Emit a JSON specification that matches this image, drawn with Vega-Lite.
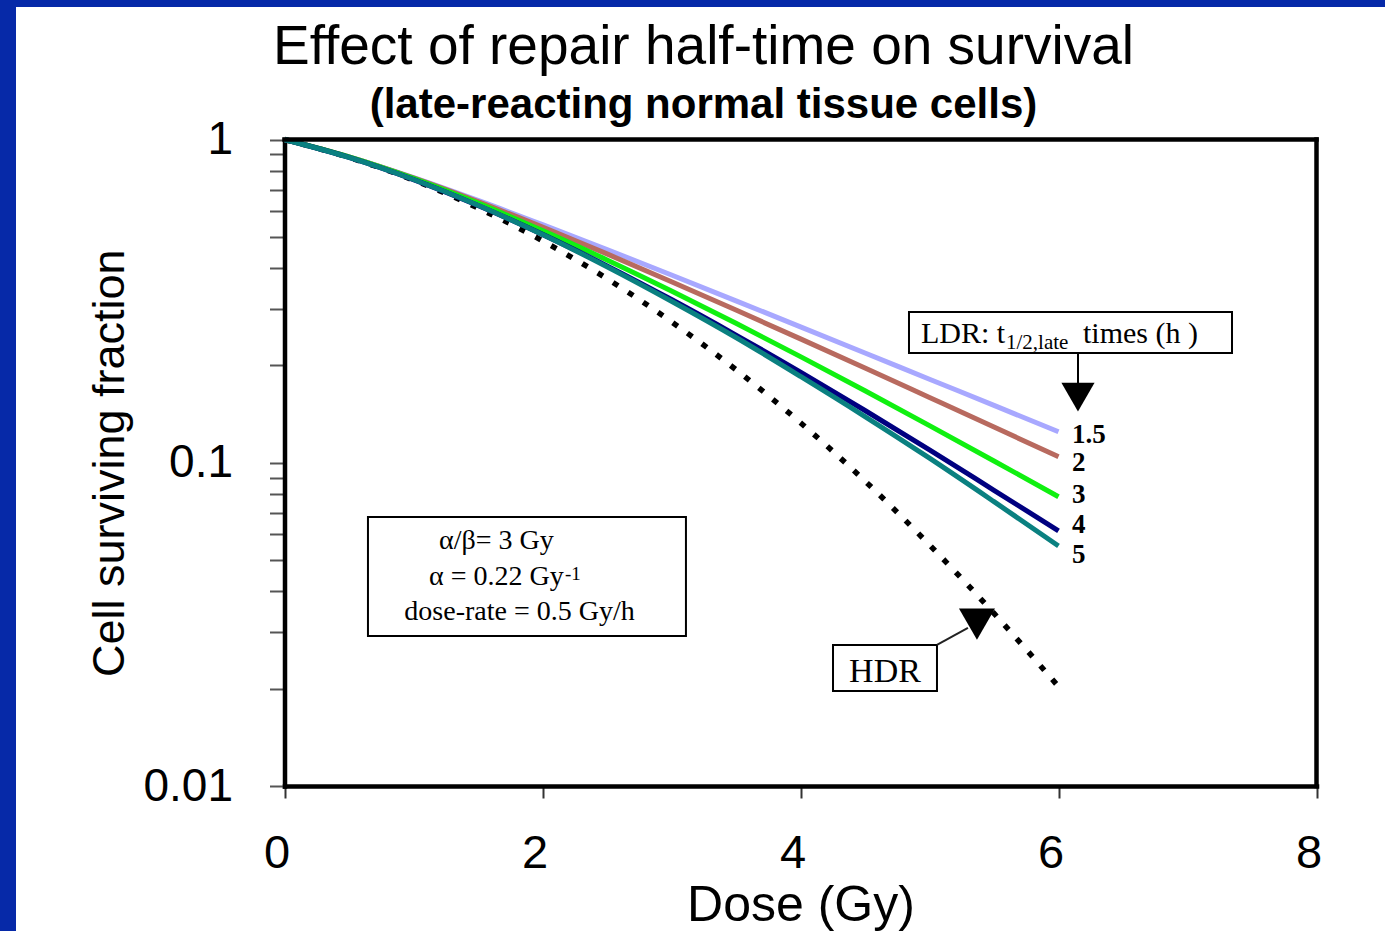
{
  "$schema": "https://vega.github.io/schema/vega-lite/v6.json",
  "width": 1369,
  "height": 924,
  "autosize": {"type": "none"},
  "padding": {"left": 16, "top": 7, "right": 0, "bottom": 0},
  "background": "#0629A8",
  "config": {"view": {"fill": "white", "stroke": null}},
  "title": {
    "text": "Effect of repair half-time on survival",
    "subtitle": "(late-reacting normal tissue cells)",
    "font": "Liberation Sans", "fontSize": 55, "fontWeight": "normal", "color": "black",
    "subtitleFont": "Liberation Sans", "subtitleFontSize": 42, "subtitleFontWeight": "bold", "subtitleColor": "black",
    "subtitlePadding": 9,
    "anchor": "middle", "frame": "group", "offset": -120, "dx": 3
  },
  "datasets": {
    "one": [{}],
    "curves": [
      {"t": "1.5", "dose": 0, "sf": 1}, {"t": "1.5", "dose": 0.5, "sf": 0.8832}, {"t": "1.5", "dose": 1, "sf": 0.7619}, {"t": "1.5", "dose": 1.5, "sf": 0.6477}, {"t": "1.5", "dose": 2, "sf": 0.5454}, {"t": "1.5", "dose": 2.5, "sf": 0.4566}, {"t": "1.5", "dose": 3, "sf": 0.3809}, {"t": "1.5", "dose": 3.5, "sf": 0.3169}, {"t": "1.5", "dose": 4, "sf": 0.2633}, {"t": "1.5", "dose": 4.5, "sf": 0.2186}, {"t": "1.5", "dose": 5, "sf": 0.1813}, {"t": "1.5", "dose": 5.5, "sf": 0.1505}, {"t": "1.5", "dose": 6, "sf": 0.1247},
      {"t": "2", "dose": 0, "sf": 1}, {"t": "2", "dose": 0.5, "sf": 0.8835}, {"t": "2", "dose": 1, "sf": 0.7604}, {"t": "2", "dose": 1.5, "sf": 0.6424}, {"t": "2", "dose": 2, "sf": 0.5357}, {"t": "2", "dose": 2.5, "sf": 0.4426}, {"t": "2", "dose": 3, "sf": 0.3632}, {"t": "2", "dose": 3.5, "sf": 0.2968}, {"t": "2", "dose": 4, "sf": 0.2417}, {"t": "2", "dose": 4.5, "sf": 0.1964}, {"t": "2", "dose": 5, "sf": 0.1592}, {"t": "2", "dose": 5.5, "sf": 0.129}, {"t": "2", "dose": 6, "sf": 0.1044},
      {"t": "3", "dose": 0, "sf": 1}, {"t": "3", "dose": 0.5, "sf": 0.8834}, {"t": "3", "dose": 1, "sf": 0.7579}, {"t": "3", "dose": 1.5, "sf": 0.6353}, {"t": "3", "dose": 2, "sf": 0.5229}, {"t": "3", "dose": 2.5, "sf": 0.4241}, {"t": "3", "dose": 3, "sf": 0.34}, {"t": "3", "dose": 3.5, "sf": 0.2701}, {"t": "3", "dose": 4, "sf": 0.213}, {"t": "3", "dose": 4.5, "sf": 0.167}, {"t": "3", "dose": 5, "sf": 0.1303}, {"t": "3", "dose": 5.5, "sf": 0.1013}, {"t": "3", "dose": 6, "sf": 0.0785},
      {"t": "4", "dose": 0, "sf": 1}, {"t": "4", "dose": 0.5, "sf": 0.8804}, {"t": "4", "dose": 1, "sf": 0.7516}, {"t": "4", "dose": 1.5, "sf": 0.6251}, {"t": "4", "dose": 2, "sf": 0.5087}, {"t": "4", "dose": 2.5, "sf": 0.4065}, {"t": "4", "dose": 3, "sf": 0.3198}, {"t": "4", "dose": 3.5, "sf": 0.2483}, {"t": "4", "dose": 4, "sf": 0.1907}, {"t": "4", "dose": 4.5, "sf": 0.1451}, {"t": "4", "dose": 5, "sf": 0.1096}, {"t": "4", "dose": 5.5, "sf": 0.0822}, {"t": "4", "dose": 6, "sf": 0.0616},
      {"t": "5", "dose": 0, "sf": 1}, {"t": "5", "dose": 0.5, "sf": 0.8800}, {"t": "5", "dose": 1, "sf": 0.7520}, {"t": "5", "dose": 1.5, "sf": 0.6260}, {"t": "5", "dose": 2, "sf": 0.5080}, {"t": "5", "dose": 2.5, "sf": 0.4040}, {"t": "5", "dose": 3, "sf": 0.3160}, {"t": "5", "dose": 3.5, "sf": 0.2440}, {"t": "5", "dose": 4, "sf": 0.1850}, {"t": "5", "dose": 4.5, "sf": 0.1390}, {"t": "5", "dose": 5, "sf": 0.1033}, {"t": "5", "dose": 5.5, "sf": 0.0758}, {"t": "5", "dose": 6, "sf": 0.0553}
    ],
    "hdr": [
      {"dose": 0, "sf": 1}, {"dose": 0.5, "sf": 0.88}, {"dose": 1, "sf": 0.749}, {"dose": 1.5, "sf": 0.614}, {"dose": 2, "sf": 0.486}, {"dose": 2.5, "sf": 0.371}, {"dose": 3, "sf": 0.273}, {"dose": 3.5, "sf": 0.194}, {"dose": 4, "sf": 0.133}, {"dose": 4.5, "sf": 0.0878}, {"dose": 5, "sf": 0.0557}, {"dose": 5.5, "sf": 0.0342}, {"dose": 6, "sf": 0.0203}
    ],
    "labels": [
      {"t": "1.5", "dose": 6, "sf": 0.1219},
      {"t": "2", "dose": 6, "sf": 0.0998},
      {"t": "3", "dose": 6, "sf": 0.0795},
      {"t": "4", "dose": 6, "sf": 0.0642},
      {"t": "5", "dose": 6, "sf": 0.0518}
    ]
  },
  "layer": [
    {
      "data": {"name": "hdr"},
      "mark": {"type": "line", "color": "black", "strokeWidth": 5.5, "strokeDash": [6, 12], "strokeCap": "butt", "interpolate": "monotone"},
      "encoding": {
        "x": {
          "field": "dose", "type": "quantitative",
          "scale": {"domain": [0, 8], "range": [268.5, 1300.5], "zero": false, "nice": false},
          "axis": {
            "orient": "bottom", "offset": -145, "values": [0, 2, 4, 6, 8], "format": "d", "grid": false,
            "domain": true, "domainColor": "black", "domainWidth": 4.5, "domainCap": "square",
            "ticks": true, "tickSize": 12, "tickColor": "#333333", "tickWidth": 2,
            "labelFont": "Liberation Sans", "labelFontSize": 47, "labelColor": "black",
            "labelBaseline": "alphabetic", "labelPadding": 69, "labelOffset": -8, "labelFlush": false, "labelOverlap": false,
            "title": "Dose (Gy)", "titleFont": "Liberation Sans", "titleFontSize": 50, "titleFontWeight": "normal",
            "titleColor": "black", "titleBaseline": "alphabetic", "titleY": 134
          }
        },
        "y": {
          "field": "sf", "type": "quantitative",
          "scale": {"type": "log", "domain": [0.01, 1], "range": [779, 132.5], "nice": false},
          "axis": {
            "orient": "left", "offset": -268.5,
            "values": [0.01, 0.02, 0.03, 0.04, 0.05, 0.06, 0.07, 0.08, 0.09, 0.1, 0.2, 0.3, 0.4, 0.5, 0.6, 0.7, 0.8, 0.9, 1],
            "labelExpr": "datum.value == 1 ? '1' : datum.value == 0.1 ? '0.1' : datum.value == 0.01 ? '0.01' : ''",
            "grid": false,
            "domain": true, "domainColor": "black", "domainWidth": 4.5, "domainCap": "square",
            "ticks": true, "tickSize": 15, "tickColor": "#555555", "tickWidth": 2,
            "labelFont": "Liberation Sans", "labelFontSize": 46, "labelColor": "black",
            "labelBaseline": "middle", "labelPadding": 37, "labelFlush": false, "labelOverlap": false,
            "title": "Cell surviving fraction", "titleFont": "Liberation Sans", "titleFontSize": 45, "titleFontWeight": "normal",
            "titleColor": "black", "titleAngle": -90, "titleBaseline": "alphabetic", "titleX": -161.5
          }
        }
      }
    },
    {
      "data": {"name": "curves"},
      "mark": {"type": "line", "strokeWidth": 5, "interpolate": "monotone"},
      "encoding": {
        "x": {"field": "dose", "type": "quantitative"},
        "y": {"field": "sf", "type": "quantitative"},
        "color": {
          "field": "t", "type": "nominal", "legend": null,
          "scale": {"domain": ["1.5", "2", "3", "4", "5"], "range": ["#A8A8FF", "#B86A5F", "#10F010", "#000080", "#0A8080"]}
        }
      }
    },
    {
      "data": {"name": "labels"},
      "mark": {"type": "text", "font": "Liberation Serif", "fontWeight": "bold", "fontSize": 27, "align": "left", "baseline": "middle", "dx": 13.5, "color": "black"},
      "encoding": {
        "x": {"field": "dose", "type": "quantitative"},
        "y": {"field": "sf", "type": "quantitative"},
        "text": {"field": "t"}
      }
    },
    {
      "data": {"name": "one"},
      "mark": {"type": "rule", "color": "black", "strokeWidth": 4.5, "strokeCap": "square"},
      "encoding": {
        "x": {"datum": 8, "type": "quantitative"},
        "y": {"datum": 0.01, "type": "quantitative"},
        "y2": {"datum": 1}
      }
    },
    {
      "data": {"name": "one"},
      "mark": {"type": "rule", "color": "black", "strokeWidth": 4.5, "strokeCap": "square"},
      "encoding": {
        "x": {"datum": 0, "type": "quantitative"},
        "x2": {"datum": 8},
        "y": {"datum": 1, "type": "quantitative"}
      }
    },
    {
      "data": {"name": "one"},
      "mark": {"type": "rect", "fill": "white", "stroke": "black", "strokeWidth": 2},
      "encoding": {
        "x": {"datum": 4.841, "type": "quantitative"}, "x2": {"datum": 7.345},
        "y": {"datum": 0.2926, "type": "quantitative"}, "y2": {"datum": 0.2185}
      }
    },
    {
      "data": {"name": "one"},
      "mark": {"type": "text", "text": "LDR: t", "font": "Liberation Serif", "fontSize": 30, "align": "left", "baseline": "alphabetic", "color": "black"},
      "encoding": {"x": {"datum": 4.934, "type": "quantitative"}, "y": {"datum": 0.2347, "type": "quantitative"}}
    },
    {
      "data": {"name": "one"},
      "mark": {"type": "text", "text": "1/2,late", "font": "Liberation Serif", "fontSize": 21, "align": "left", "baseline": "alphabetic", "color": "black"},
      "encoding": {"x": {"datum": 5.593, "type": "quantitative"}, "y": {"datum": 0.2248, "type": "quantitative"}}
    },
    {
      "data": {"name": "one"},
      "mark": {"type": "text", "text": "times (h )", "font": "Liberation Serif", "fontSize": 30, "align": "left", "baseline": "alphabetic", "color": "black"},
      "encoding": {"x": {"datum": 6.19, "type": "quantitative"}, "y": {"datum": 0.2347, "type": "quantitative"}}
    },
    {
      "data": {"name": "one"},
      "mark": {"type": "rule", "color": "black", "strokeWidth": 2},
      "encoding": {
        "x": {"datum": 6.151, "type": "quantitative"},
        "y": {"datum": 0.2185, "type": "quantitative"}, "y2": {"datum": 0.174}
      }
    },
    {
      "data": {"name": "one"},
      "mark": {"type": "point", "shape": "triangle-down", "size": 1100, "filled": true, "color": "black", "opacity": 1},
      "encoding": {"x": {"datum": 6.151, "type": "quantitative"}, "y": {"datum": 0.1597, "type": "quantitative"}}
    },
    {
      "data": {"name": "one"},
      "mark": {"type": "rect", "fill": "white", "stroke": "black", "strokeWidth": 2},
      "encoding": {
        "x": {"datum": 0.647, "type": "quantitative"}, "x2": {"datum": 3.112},
        "y": {"datum": 0.068, "type": "quantitative"}, "y2": {"datum": 0.02911}
      }
    },
    {
      "data": {"name": "one"},
      "mark": {"type": "text", "text": "α/β= 3 Gy", "font": "Liberation Serif", "fontSize": 28, "align": "center", "baseline": "alphabetic", "color": "black"},
      "encoding": {"x": {"datum": 1.643, "type": "quantitative"}, "y": {"datum": 0.0541, "type": "quantitative"}}
    },
    {
      "data": {"name": "one"},
      "mark": {"type": "text", "text": "α = 0.22 Gy", "font": "Liberation Serif", "fontSize": 28, "align": "center", "baseline": "alphabetic", "color": "black"},
      "encoding": {"x": {"datum": 1.643, "type": "quantitative"}, "y": {"datum": 0.04186, "type": "quantitative"}}
    },
    {
      "data": {"name": "one"},
      "mark": {"type": "text", "text": "-1", "font": "Liberation Serif", "fontSize": 19, "align": "left", "baseline": "alphabetic", "color": "black"},
      "encoding": {"x": {"datum": 2.174, "type": "quantitative"}, "y": {"datum": 0.04338, "type": "quantitative"}}
    },
    {
      "data": {"name": "one"},
      "mark": {"type": "text", "text": "dose-rate = 0.5 Gy/h", "font": "Liberation Serif", "fontSize": 28, "align": "center", "baseline": "alphabetic", "color": "black"},
      "encoding": {"x": {"datum": 1.822, "type": "quantitative"}, "y": {"datum": 0.03262, "type": "quantitative"}}
    },
    {
      "data": {"name": "one"},
      "mark": {"type": "rect", "fill": "white", "stroke": "black", "strokeWidth": 2},
      "encoding": {
        "x": {"datum": 4.252, "type": "quantitative"}, "x2": {"datum": 5.058},
        "y": {"datum": 0.02731, "type": "quantitative"}, "y2": {"datum": 0.01967}
      }
    },
    {
      "data": {"name": "one"},
      "mark": {"type": "text", "text": "HDR", "font": "Liberation Serif", "fontSize": 34, "align": "center", "baseline": "alphabetic", "color": "black"},
      "encoding": {"x": {"datum": 4.655, "type": "quantitative"}, "y": {"datum": 0.02098, "type": "quantitative"}}
    },
    {
      "data": {"name": "one"},
      "mark": {"type": "rule", "color": "#222222", "strokeWidth": 2},
      "encoding": {
        "x": {"datum": 5.058, "type": "quantitative"}, "x2": {"datum": 5.298},
        "y": {"datum": 0.02731, "type": "quantitative"}, "y2": {"datum": 0.03082}
      }
    },
    {
      "data": {"name": "one"},
      "mark": {"type": "point", "shape": "triangle-down", "size": 1300, "filled": true, "color": "black", "opacity": 1},
      "encoding": {"x": {"datum": 5.368, "type": "quantitative"}, "y": {"datum": 0.0317, "type": "quantitative"}}
    }
  ]
}
